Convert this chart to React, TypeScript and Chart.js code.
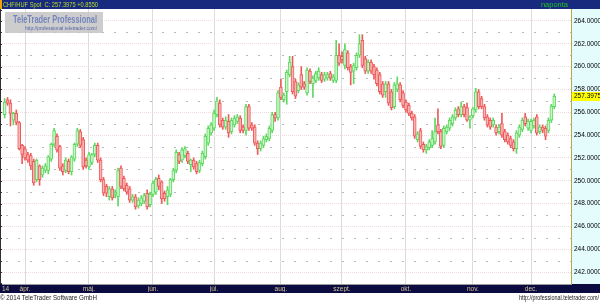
import React, { useEffect, useRef } from "react";
import { Chart, registerables } from "chart.js";
Chart.register(...registerables);

// Daily CHF/HUF candles, index 0 = 21 Mar 2014 ... 189 = 11 Dec 2014
const opens = [
  255.8, 257.1, 256.8, 255.3, 255.9, 255.1, 253.1, 252.8, 252.3, 252.2,
  251.7, 250.1, 251.3, 250.5, 250.9, 250.9, 251.9, 253.2, 253.9, 253.0,
  251.3, 250.9, 251.7, 250.8, 251.9, 253.2, 254.3, 253.6, 251.8, 251.2,
  251.6, 252.3, 253.1, 251.8, 250.1, 249.5, 248.6, 249.3, 248.8, 248.6,
  251.1, 250.2, 249.6, 249.3, 248.3, 248.6, 247.8, 248.0, 248.2, 248.9,
  247.9, 248.8, 249.0, 250.2, 249.9, 248.9, 248.6, 248.8, 250.1, 250.9,
  252.3, 251.8, 252.2, 252.4, 251.4, 251.8, 251.5, 250.9, 251.5, 252.1,
  253.3, 254.2, 254.6, 255.8, 256.8, 255.3, 254.7, 255.2, 254.3, 254.9,
  255.2, 255.5, 254.7, 254.4, 256.5, 254.9, 254.7, 253.3, 252.8, 253.1,
  253.6, 253.7, 254.4, 255.8, 255.5, 258.2, 257.1, 257.8, 259.3, 260.0,
  258.7, 257.9, 259.3, 258.5, 257.7, 259.6, 258.5, 258.8, 259.0, 259.3,
  258.9, 259.0, 259.4, 258.8, 258.8, 261.0, 260.9, 260.1, 261.2, 260.0,
  259.6, 259.9, 261.0, 262.3, 260.7, 259.6, 260.4, 260.0, 259.7, 259.3,
  258.5, 257.8, 258.5, 257.8, 256.5, 258.0, 258.4, 257.7, 256.9, 256.6,
  255.9, 255.6, 253.6, 254.4, 253.2, 252.7, 252.9, 253.1, 253.4, 254.9,
  254.3, 253.1, 254.3, 254.6, 255.0, 255.5, 256.3, 255.8, 256.5, 256.4,
  255.3, 255.7, 256.2, 257.8, 257.2, 256.5, 255.6, 255.3, 254.9, 254.7,
  254.3, 255.0, 254.3, 254.0, 253.7, 253.4, 252.8, 254.0, 254.5, 255.6,
  254.6, 254.4, 254.8, 255.6, 254.3, 254.7, 254.6, 254.4, 255.3, 256.5,
];
const highs = [
  257.2, 257.3, 257.1, 256.0, 256.2, 255.2, 253.2, 253.0, 252.5, 252.4,
  251.9, 251.9, 251.4, 251.3, 251.5, 252.2, 253.3, 254.6, 254.1, 253.1,
  251.5, 252.0, 251.9, 252.2, 253.3, 254.6, 254.5, 253.8, 252.0, 252.5,
  252.4, 253.3, 253.3, 252.0, 250.3, 249.7, 249.5, 249.5, 249.2, 251.1,
  251.3, 250.4, 249.8, 249.5, 248.8, 248.8, 248.5, 248.7, 248.9, 249.2,
  249.0, 250.0, 250.3, 250.5, 250.0, 249.1, 249.5, 250.2, 251.1, 252.7,
  252.5, 252.9, 253.0, 252.6, 251.9, 252.0, 251.7, 251.8, 252.6, 254.1,
  254.8, 255.1, 256.2, 257.3, 257.1, 255.5, 255.6, 255.8, 255.5, 255.7,
  255.8, 255.7, 254.9, 256.7, 256.7, 255.1, 254.9, 253.5, 253.5, 253.9,
  254.1, 254.8, 256.0, 256.0, 257.9, 258.9, 257.7, 259.7, 260.9, 260.9,
  258.9, 258.6, 260.0, 258.7, 259.9, 259.8, 259.2, 259.6, 259.9, 259.5,
  259.5, 259.5, 259.6, 259.3, 262.3, 262.0, 261.3, 262.0, 261.4, 260.2,
  260.3, 261.2, 262.8, 262.8, 260.9, 260.6, 260.6, 260.2, 259.9, 259.5,
  258.7, 258.7, 258.7, 258.0, 258.6, 259.1, 258.6, 257.9, 257.1, 256.8,
  256.1, 255.8, 254.3, 254.6, 253.4, 253.2, 253.6, 254.4, 255.5, 256.3,
  254.5, 254.8, 254.9, 255.5, 255.8, 256.4, 256.5, 256.9, 256.7, 256.8,
  255.7, 256.4, 258.1, 258.0, 257.4, 256.7, 255.8, 255.5, 255.5, 254.9,
  254.9, 255.9, 254.5, 254.2, 253.9, 253.6, 254.4, 254.9, 255.5, 255.9,
  255.4, 255.4, 255.5, 255.8, 254.9, 254.9, 254.8, 255.5, 256.7, 257.6,
];
const lows = [
  255.5, 256.6, 254.8, 254.9, 254.9, 252.7, 251.5, 251.8, 251.6, 251.0,
  249.6, 249.9, 249.6, 250.3, 250.7, 250.6, 251.7, 253.0, 252.5, 250.9,
  250.5, 250.7, 250.6, 250.5, 251.7, 253.0, 252.9, 251.0, 251.1, 251.0,
  251.4, 252.1, 251.6, 249.9, 248.7, 248.6, 248.3, 248.3, 248.5, 247.8,
  249.3, 249.1, 248.8, 248.1, 248.1, 247.5, 247.6, 247.8, 248.0, 247.5,
  247.7, 248.6, 248.8, 249.2, 248.0, 248.2, 247.9, 248.6, 249.9, 250.7,
  251.5, 251.6, 252.0, 251.5, 250.8, 251.0, 250.6, 250.7, 251.3, 251.9,
  253.1, 254.0, 254.4, 255.6, 254.7, 254.5, 254.5, 253.8, 254.1, 254.7,
  255.0, 254.2, 254.2, 254.0, 254.4, 254.4, 253.1, 252.3, 252.6, 252.9,
  253.4, 253.5, 254.2, 255.2, 255.3, 257.1, 256.9, 256.7, 259.1, 257.6,
  257.2, 257.7, 258.0, 258.0, 257.5, 258.5, 257.3, 258.6, 258.8, 258.6,
  258.7, 258.8, 258.8, 258.6, 258.6, 260.1, 260.3, 259.8, 259.7, 258.4,
  258.5, 259.7, 260.8, 259.9, 259.4, 259.4, 259.4, 258.9, 258.3, 257.6,
  257.3, 257.3, 256.6, 256.2, 256.3, 257.8, 256.9, 256.4, 256.0, 255.7,
  255.3, 253.7, 253.4, 252.8, 252.5, 252.4, 252.7, 252.9, 253.2, 254.1,
  252.8, 252.9, 254.1, 254.4, 254.8, 255.3, 255.6, 255.6, 255.6, 255.2,
  254.6, 255.5, 256.0, 256.3, 256.3, 255.3, 254.7, 254.5, 254.7, 254.0,
  254.1, 253.8, 253.4, 253.2, 252.9, 252.6, 252.4, 253.8, 254.3, 254.8,
  254.4, 254.2, 254.6, 254.0, 254.1, 254.2, 253.6, 254.2, 255.1, 256.3,
];
const closes = [
  256.9, 256.8, 255.9, 255.9, 255.1, 252.8, 252.3, 252.0, 251.8, 251.3,
  249.8, 251.8, 250.1, 251.1, 251.3, 252.1, 253.2, 254.4, 252.7, 251.1,
  250.8, 251.8, 250.8, 252.1, 253.2, 254.4, 253.1, 251.2, 251.3, 252.3,
  252.3, 253.1, 251.8, 250.1, 248.9, 248.9, 249.3, 248.5, 249.0, 250.9,
  249.5, 249.3, 249.0, 248.3, 248.6, 247.7, 248.3, 248.5, 248.7, 247.7,
  248.8, 249.8, 250.1, 249.5, 248.4, 248.4, 249.2, 250.1, 250.9, 252.5,
  251.7, 252.7, 252.8, 251.7, 251.8, 251.2, 250.8, 251.6, 252.4, 253.9,
  254.6, 254.9, 255.9, 257.0, 254.9, 254.7, 255.3, 254.2, 255.3, 255.5,
  255.6, 254.4, 254.4, 256.5, 254.6, 254.6, 253.3, 252.8, 253.3, 253.7,
  253.9, 254.6, 255.8, 255.5, 257.7, 257.3, 257.5, 259.5, 260.4, 257.8,
  257.4, 258.4, 258.2, 258.2, 259.7, 258.7, 259.0, 259.4, 259.6, 258.8,
  259.3, 259.3, 259.0, 259.1, 261.0, 260.3, 260.6, 261.5, 259.9, 259.5,
  260.1, 261.0, 262.0, 260.1, 259.6, 260.4, 259.6, 259.3, 258.5, 257.8,
  257.5, 258.5, 256.8, 256.4, 258.4, 258.5, 257.1, 256.6, 256.2, 255.9,
  255.5, 253.9, 254.1, 253.0, 252.7, 253.0, 253.4, 253.7, 254.3, 254.3,
  253.0, 254.6, 254.7, 255.3, 255.6, 256.2, 255.8, 256.5, 255.8, 255.3,
  255.6, 256.3, 257.8, 256.5, 256.5, 255.5, 254.9, 254.7, 255.3, 254.2,
  254.7, 254.0, 253.6, 253.4, 253.1, 252.8, 254.2, 254.7, 255.3, 255.0,
  255.2, 255.2, 255.3, 254.2, 254.7, 254.4, 253.9, 255.3, 256.54, 257.3975,
];

// x-axis: index of first trading day of each month, and labels
const monthStartIndex = [7, 29, 51, 72, 95, 116, 138, 161, 181];
const monthLabels = ["ápr.", "máj.", "jún.", "júl.", "aug.", "szept.", "okt.", "nov.", "dec."];
const yearTickIndex = 0.3;
const yearLabel = "14";

// y-axis
const priceTicks = [242, 244, 246, 248, 250, 252, 254, 256, 258, 260, 262, 264];
const minorPriceLines = [243, 245, 247, 249, 251, 253, 255, 257, 259, 261, 263];
const yMin = 240.95;
const yMax = 265.05;
const xMin = -0.91;
const xMax = 194.75;

// header texts
const titleText = "CHF/HUF Spot  C: 257.3975 +0.8550";
const periodText = "naponta";
const lastPrice = 257.3975;
const watermarkTitle = "TeleTrader Professional";
const watermarkUrl = "http://professional.teletrader.com/";
const copyrightText = "© 2014 TeleTrader Software GmbH";
const footerUrl = "http://professional.teletrader.com/";

const UP_LINE = "#5ed85e";
const UP_FILL = "#cbf5cb";
const DN_LINE = "#ee5a5a";
const DN_FILL = "#f8b6b6";
const FONT = "'Liberation Sans', Arial, sans-serif";

export default function App() {
  const ref = useRef<HTMLCanvasElement>(null);
  useEffect(() => {
    const canvas = ref.current!;
    const idx = closes.map((_, i) => i);
    const up = closes.map((c, i) => c >= opens[i]);
    const xTickValues = [yearTickIndex, ...monthStartIndex];
    const xTickLabels = [yearLabel, ...monthLabels];

    const decor = {
      id: "decor",
      beforeDraw(chart: any) {
        const { ctx, chartArea, width, height } = chart;
        ctx.save();
        ctx.fillStyle = "#ffffff";
        ctx.fillRect(0, 0, width, height);
        ctx.fillStyle = "#e4fcfc";
        ctx.fillRect(chartArea.right, 9, width - chartArea.right, chartArea.bottom - 9);
        ctx.fillStyle = "#172a7e";
        ctx.fillRect(0, 0, width, 9);
        ctx.fillStyle = "#f0a000";
        ctx.fillRect(0, 0, 2, 9);
        ctx.fillStyle = "#0b0b42";
        ctx.fillRect(0, chartArea.bottom, width, 9);
        ctx.restore();
      },
      beforeDatasetsDraw(chart: any) {
        const { ctx, chartArea, scales } = chart;
        ctx.save();
        ctx.strokeStyle = "#b8b8b8";
        ctx.lineWidth = 1;
        ctx.setLineDash([2, 10]);
        for (const v of minorPriceLines) {
          const y = Math.round(scales.y.getPixelForValue(v)) + 0.5;
          ctx.beginPath();
          ctx.moveTo(chartArea.left + 4, y);
          ctx.lineTo(chartArea.right, y);
          ctx.stroke();
        }
        ctx.restore();
      },
      afterDraw(chart: any) {
        const { ctx, chartArea, scales, width } = chart;
        ctx.save();
        ctx.fillStyle = "#303030";
        ctx.fillRect(0, 9, 1, chartArea.bottom - 9);
        for (let v = 241; v <= 265; v++) {
          const y = Math.round(scales.y.getPixelForValue(v));
          ctx.fillRect(0, y, 2, 1);
        }
        ctx.textBaseline = "middle";
        ctx.font = `8px ${FONT}`;
        ctx.fillStyle = "#b8dc2c";
        ctx.textAlign = "left";
        ctx.fillText(titleText, 3, 5, 95);
        ctx.fillStyle = "#22c422";
        ctx.textAlign = "right";
        ctx.font = `7.5px ${FONT}`;
        ctx.fillText(periodText, 568, 5);
        ctx.fillStyle = "rgba(196,196,196,0.85)";
        ctx.fillRect(5, 12, 98, 21);
        ctx.textAlign = "left";
        ctx.textBaseline = "alphabetic";
        ctx.font = `bold 10.5px ${FONT}`;
        ctx.fillStyle = "#7484bc";
        ctx.fillText(watermarkTitle, 13, 23, 84);
        ctx.font = `5.5px ${FONT}`;
        ctx.fillStyle = "#5666a8";
        ctx.fillText(watermarkUrl, 25, 30, 72);
        const py = scales.y.getPixelForValue(lastPrice);
        ctx.fillStyle = "#ffff00";
        ctx.fillRect(chartArea.right + 1, Math.round(py) - 4, width - chartArea.right - 1, 9);
        ctx.fillStyle = "#000000";
        ctx.font = `6.5px ${FONT}`;
        ctx.textBaseline = "middle";
        ctx.fillText(lastPrice.toFixed(4), chartArea.right + 3, Math.round(py) + 0.5);
        ctx.fillStyle = "#222222";
        ctx.font = `7.5px ${FONT}`;
        ctx.textBaseline = "alphabetic";
        ctx.textAlign = "left";
        ctx.fillText(copyrightText, 0, 300, 97);
        ctx.textAlign = "right";
        ctx.fillText(footerUrl, 599, 300, 80);
        ctx.restore();
      },
    };

    const chart = new Chart(canvas, {
      type: "bar",
      data: {
        datasets: [
          {
            label: "body",
            data: idx.map((i) => ({ x: i, y: [opens[i], closes[i]] })) as any,
            backgroundColor: up.map((u) => (u ? UP_FILL : DN_FILL)),
            borderColor: up.map((u) => (u ? UP_LINE : DN_LINE)),
            borderWidth: 1,
            borderSkipped: false,
            barThickness: 3,
            grouped: false,
            order: 0,
          } as any,
          {
            label: "wick",
            data: idx.map((i) => ({ x: i, y: [lows[i], highs[i]] })) as any,
            backgroundColor: up.map((u) => (u ? UP_LINE : DN_LINE)),
            borderWidth: 0,
            barThickness: 1,
            grouped: false,
            order: 1,
          } as any,
        ],
      },
      options: {
        animation: false,
        responsive: false,
        devicePixelRatio: 1,
        layout: { padding: { top: 9, bottom: 10, left: 2, right: 0 } },
        plugins: { legend: { display: false }, tooltip: { enabled: false } },
        scales: {
          x: {
            type: "linear",
            min: xMin,
            max: xMax,
            offset: false,
            grid: {
              offset: false,
              drawTicks: false,
              color: (c: any) => (c.tick && c.tick.value < 1 ? "rgba(0,0,0,0)" : "#dcdcdc"),
            },
            border: { color: "#9c9c9c", width: 1 },
            ticks: {
              autoSkip: false,
              maxRotation: 0,
              padding: 1,
              color: "#d4c690",
              font: { size: 6.5, family: FONT },
              callback: (_v: any, i: number) => xTickLabels[i],
            },
            afterBuildTicks: (s: any) => {
              s.ticks = xTickValues.map((v) => ({ value: v }));
            },
            afterFit: (s: any) => {
              s.height = 8;
              s.paddingLeft = 0;
              s.paddingRight = 0;
            },
          } as any,
          y: {
            position: "right",
            min: yMin,
            max: yMax,
            beginAtZero: false,
            grid: { drawTicks: false, color: "#eedcdc" },
            border: { color: "#b8a848", dash: [1, 1] },
            ticks: {
              padding: 3,
              color: "#000000",
              font: { size: 6.5, family: FONT },
              callback: (v: any) => Number(v).toFixed(4),
            },
            afterBuildTicks: (s: any) => {
              s.ticks = priceTicks.map((v) => ({ value: v }));
            },
            afterFit: (s: any) => {
              s.width = 29;
              s.paddingTop = 0;
              s.paddingBottom = 0;
            },
          } as any,
        },
      },
      plugins: [decor as any],
    });
    return () => chart.destroy();
  }, []);
  return (
    <div style={{ position: "fixed", left: 0, top: 0, width: 600, height: 302 }}>
      <canvas ref={ref} width={600} height={302} style={{ display: "block" }} />
    </div>
  );
}
